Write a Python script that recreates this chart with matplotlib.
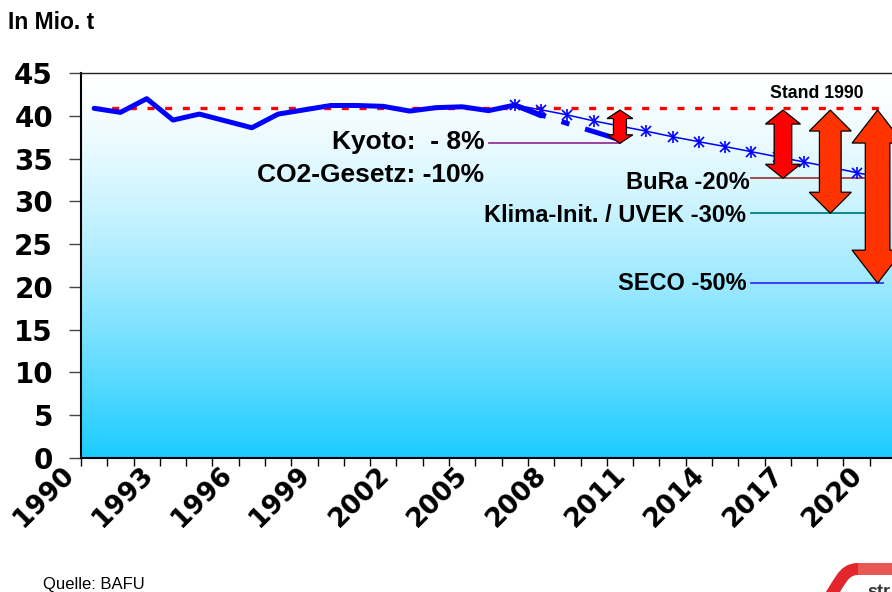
import numpy as np
import matplotlib
matplotlib.use("Agg")
import matplotlib.pyplot as plt
from matplotlib.patches import Polygon, PathPatch
from matplotlib.path import Path
from matplotlib.transforms import ScaledTranslation

# ---------------- data ----------------
hist_years = list(range(1990, 2008))
hist_values = [40.87, 40.4, 42.0, 39.5, 40.2, 39.4, 38.6, 40.2, 40.7, 41.2,
               41.2, 41.1, 40.55, 40.95, 41.05, 40.6, 41.25, 40.0]
proj_years = list(range(2006, 2021))
proj_values = [41.25, 40.7, 40.1, 39.4, 38.8, 38.2, 37.55, 36.97, 36.4, 35.8,
               35.2, 34.6, 34.0, 33.35, 32.75]
kyoto_path_years = [2006, 2007, 2008, 2009, 2010]
kyoto_path_values = [41.25, 40.1, 39.1, 38.15, 37.2]
base_1990 = 40.87
base_years = [1990, 2020]
target_pct = [10, 20, 30, 50]
target_line_years = [(2005, 2010), (2015, 2020), (2015, 2020), (2015, 2020)]
arrow_years = [2010, 2016.2, 2018, 2019.8]
target_labels = ["Kyoto:  - 8%", "BuRa -20%", "Klima-Init. / UVEK -30%", "SECO -50%"]
extra_label = "CO2-Gesetz: -10%"
xtick_years = list(range(1990, 2021, 3))
ytick_values = list(range(0, 46, 5))

# ---------------- style ----------------
plt.rcParams['font.family'] = ['Liberation Sans', 'DejaVu Sans']
W, H = 892, 592
fig = plt.figure(figsize=(W / 100, H / 100), dpi=100)
AX_L, AX_R, AX_T, AX_B = 81, 896, 73, 458
ax = fig.add_axes([AX_L / W, (H - AX_B) / H, (AX_R - AX_L) / W, (AX_B - AX_T) / H])
ax.set_facecolor('none')
XMIN, XMAX, YMIN, YMAX = 1989.5, 2020.5, 0, 45

# gradient background
t = np.linspace(0, 1, 400)[:, None]
s = t ** 1.4
end = np.array([26, 204, 255]) / 255.0
img = (1 - s)[..., None] * np.ones(3)[None, None, :] + s[..., None] * end[None, None, :]
ax.imshow(img, extent=[0, 1, 0, 1], transform=ax.transAxes, aspect='auto',
          origin='upper', zorder=0, interpolation='bilinear')

ppx = (AX_R - AX_L) / (XMAX - XMIN)   # pixels per year
ppy = (AX_B - AX_T) / (YMAX - YMIN)   # pixels per unit

# reference level 1990
ax.plot(base_years, [base_1990] * 2, color='#FF0000', lw=2.4,
        dashes=(2.1, 3.2), zorder=2)

# target lines
line_colors = ['#993399', '#A04040', '#008080', '#3333FF']
target_values = [base_1990 * (1 - p / 100) for p in target_pct]
for (x0, x1), v, c in zip(target_line_years, target_values, line_colors):
    ax.plot([x0, x1], [v, v], color=c, lw=1.3, zorder=2)

# history thick line
ax.plot(hist_years, hist_values, color='#0000FF', lw=3.6,
        solid_capstyle='round', solid_joinstyle='round', zorder=3)
# kyoto path thick dashed
ax.plot(kyoto_path_years, kyoto_path_values, color='#0000FF', lw=3.6,
        dashes=(6.6, 3.3, 1.65, 3.3), zorder=3)
# projection thin with asterisks
ax.plot(proj_years, proj_values, color='#0000FF', lw=1.1, zorder=4)
ax.plot(proj_years, proj_values, ls='none', marker='x', ms=7, mew=1.2,
        color='#0000FF', zorder=4)
ax.plot(proj_years, proj_values, ls='none', marker='|', ms=9, mew=1.2,
        color='#0000FF', zorder=4)

# arrows
head_w = [25.7, 35, 42, 51]
shaft_w = [13, 17.6, 21.7, 24.6]
head_l = [8.5, 14, 21, 33]
arrow_colors = ['#FF0000', '#FF0000', '#FF3300', '#FF3300']
for xc, bot, hw, sw, hl, col in zip(arrow_years, target_values, head_w, shaft_w,
                                    head_l, arrow_colors):
    top = base_1990 - 0.2
    hwd, swd, hld = hw / 2 / ppx, sw / 2 / ppx, hl / ppy
    verts = [(xc, top), (xc + hwd, top - hld), (xc + swd, top - hld),
             (xc + swd, bot + hld), (xc + hwd, bot + hld), (xc, bot),
             (xc - hwd, bot + hld), (xc - swd, bot + hld), (xc - swd, top - hld),
             (xc - hwd, top - hld)]
    ax.add_patch(Polygon(verts, closed=True, facecolor=col, edgecolor='black',
                         lw=0.9, zorder=5, clip_on=False, joinstyle='miter'))

# labels
label_offsets = [(-4, 1), (-2, -4), (-5, -2), (-5, 0)]
for (x0, _), v, txt, off in zip(target_line_years, target_values, target_labels,
                                label_offsets):
    ax.annotate(txt, xy=(x0, v), xytext=off, textcoords='offset pixels',
                ha='right', va='center', fontsize=19 if txt.startswith('Kyoto') else 17,
                fontweight='bold', zorder=6)
ax.annotate(extra_label, xy=(target_line_years[0][0], target_values[0]),
            xytext=(-4, -32), textcoords='offset pixels', ha='right', va='center',
            fontsize=19, fontweight='bold', zorder=6)
ax.annotate('Stand 1990', xy=(2017.5, base_1990), xytext=(0, 15),
            textcoords='offset pixels', ha='center', va='center',
            fontsize=12.7, fontweight='bold', zorder=6)

# axes
ax.set_xlim(XMIN, XMAX)
ax.set_ylim(YMIN, YMAX)
ax.set_yticks(ytick_values)
ax.set_yticklabels([str(v) for v in ytick_values], fontsize=20,
                   fontweight='bold', family='DejaVu Sans')
ax.set_xticks(xtick_years)
ax.set_xticklabels([str(v) for v in xtick_years], fontsize=19, fontweight='bold',
                   family='DejaVu Sans', rotation=45, ha='right', va='top')
ax.set_xticks(np.arange(XMIN, XMAX + 0.01, 1), minor=True)
ax.tick_params(axis='y', length=8.6, width=1, color='#444444', pad=11.5)
ax.tick_params(axis='x', which='major', length=0, pad=3)
ax.tick_params(axis='x', which='minor', length=5.5, width=1, color='black')
for lbl in ax.get_xticklabels():
    lbl.set_transform(lbl.get_transform() +
                      ScaledTranslation(-15 / 100, 0, fig.dpi_scale_trans))
ax.spines['left'].set_linewidth(1.5)
ax.spines['bottom'].set_linewidth(1.5)
ax.spines['top'].set_linewidth(1.0)
ax.spines['top'].set_color('#222222')
ax.spines['right'].set_visible(False)

# figure texts
fig.text(8 / W, 1 - 29.3 / H, 'In Mio. t', fontsize=16.5, fontweight='bold',
         va='baseline', ha='left')
fig.text(42.7 / W, 1 - 589 / H, 'Quelle: BAFU', fontsize=12, va='baseline',
         ha='left')

# logo fragment (swoosh with red gradient) and partial wordmark
def fp(x, y):
    return (x / W, 1 - y / H)
verts = [fp(826, 602), fp(840, 584), fp(842, 569), fp(858, 569), fp(900, 569)]
codes = [Path.MOVETO, Path.CURVE4, Path.CURVE4, Path.CURVE4, Path.LINETO]
fig.patches.append(PathPatch(Path(verts, codes), transform=fig.transFigure,
                             facecolor='none', edgecolor='#E3262B', lw=8.6,
                             capstyle='butt'))
verts2 = [fp(858, 569), fp(900, 569)]
fig.patches.append(PathPatch(Path(verts2, [Path.MOVETO, Path.LINETO]),
                             transform=fig.transFigure, facecolor='none',
                             edgecolor='#F07A70', lw=8.6, capstyle='butt',
                             alpha=0.6))
fig.text(867 / W, 1 - 597 / H, 'str', fontsize=13, fontweight='bold',
         color='#333333', va='baseline', ha='left')

fig.savefig('out.png', dpi=100)
